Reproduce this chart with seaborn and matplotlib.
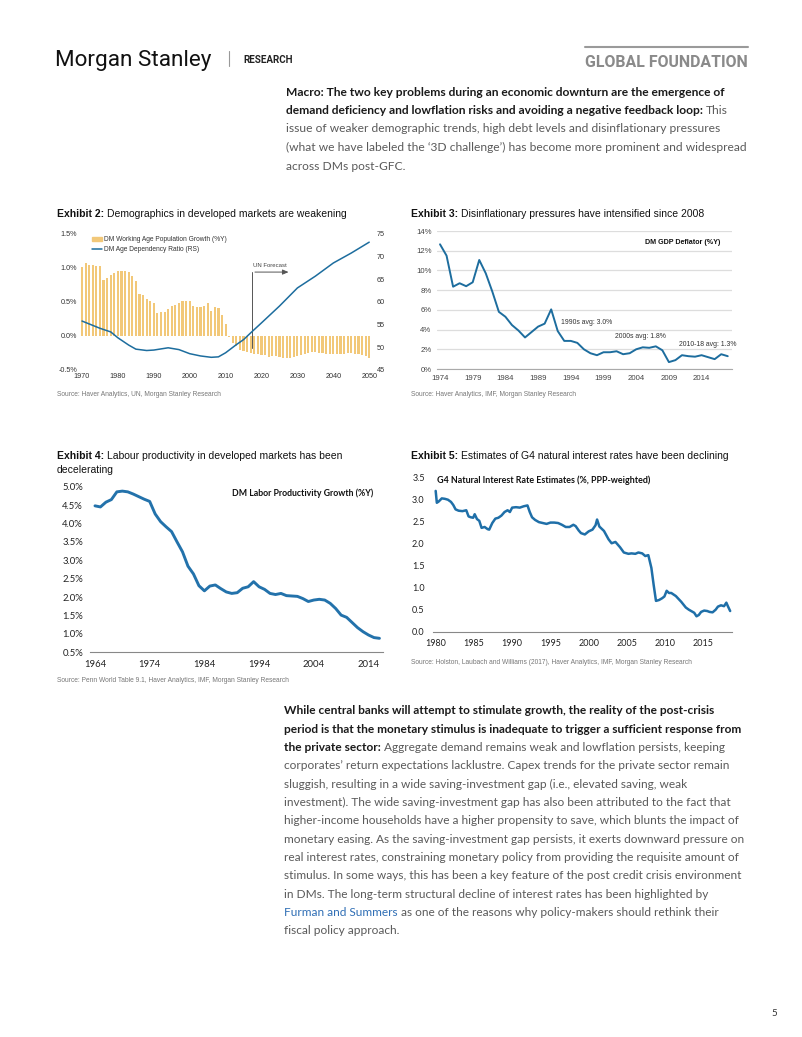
import numpy as np
import pandas as pd
import matplotlib
matplotlib.use("Agg")
import matplotlib.pyplot as plt
import seaborn as sns
from matplotlib.lines import Line2D
from matplotlib.patches import Patch
from matplotlib.ticker import FuncFormatter

# ---- Exhibit 2: demographics ----
ex2_years = list(range(1970, 2051))
ex2_wap_growth = [1.02, 1.07, 1.05, 1.04, 1.03, 1.03, 0.82, 0.86, 0.90, 0.93,
                  0.95, 0.96, 0.96, 0.94, 0.88, 0.81, 0.62, 0.60, 0.55, 0.51,
                  0.48, 0.34, 0.35, 0.36, 0.39, 0.44, 0.46, 0.49, 0.51, 0.52,
                  0.51, 0.44, 0.42, 0.42, 0.44, 0.48, 0.37, 0.43, 0.41, 0.31,
                  0.17, -0.01, -0.11, -0.15, -0.20, -0.22, -0.24, -0.25, -0.27, -0.27,
                  -0.28, -0.28, -0.31, -0.30, -0.29, -0.31, -0.32, -0.33, -0.32, -0.31,
                  -0.30, -0.28, -0.27, -0.25, -0.24, -0.24, -0.25, -0.25, -0.26, -0.26,
                  -0.27, -0.26, -0.26, -0.26, -0.25, -0.25, -0.26, -0.27, -0.28, -0.29,
                  -0.33]
ex2_dep_years = [1970, 1975, 1978, 1980, 1983, 1985, 1988, 1990, 1994, 1997, 2000, 2003,
                 2006, 2008, 2010, 2013, 2015, 2017, 2020, 2025, 2030, 2035, 2040, 2045, 2050]
ex2_dep_ratio = [55.8, 54.2, 53.4, 52.1, 50.5, 49.6, 49.3, 49.4, 49.9, 49.5, 48.6, 48.1,
                 47.8, 47.9, 48.8, 50.6, 51.7, 53.2, 55.4, 59.1, 63.1, 65.7, 68.6, 70.8, 73.2]

# ---- Exhibit 3: GDP deflator ----
ex3_years = list(range(1974, 2019))
ex3_deflator = [12.65, 11.5, 8.35, 8.7, 8.4, 8.8, 11.06, 9.7, 7.85, 5.8,
                5.3, 4.46, 3.9, 3.2, 3.75, 4.3, 4.6, 6.05, 3.85, 2.85,
                2.85, 2.65, 2.0, 1.6, 1.4, 1.7, 1.7, 1.8, 1.5, 1.6,
                2.0, 2.2, 2.15, 2.3, 1.9, 0.7, 0.9, 1.4, 1.3, 1.25,
                1.4, 1.2, 1.0, 1.5, 1.3]

# ---- Exhibit 4: labour productivity ----
ex4_years = list(range(1964, 2017))
ex4_productivity = [4.48, 4.45, 4.58, 4.65, 4.86, 4.88, 4.86, 4.80, 4.73, 4.66,
                    4.60, 4.26, 4.05, 3.91, 3.78, 3.50, 3.23, 2.84, 2.63, 2.31,
                    2.17, 2.30, 2.33, 2.23, 2.14, 2.10, 2.12, 2.24, 2.28, 2.42,
                    2.28, 2.21, 2.10, 2.07, 2.10, 2.04, 2.03, 2.02, 1.96, 1.88,
                    1.92, 1.94, 1.92, 1.83, 1.69, 1.51, 1.45, 1.31, 1.17, 1.06,
                    0.97, 0.90, 0.88]

# ---- Exhibit 5: natural rate ----
ex5_time = [1980.0, 1980.15, 1980.4, 1980.8, 1981.2, 1981.6, 1982.0, 1982.3, 1982.6, 1983.0,
            1983.5, 1984.0, 1984.3, 1984.6, 1984.9, 1985.1, 1985.4, 1985.7, 1986.0, 1986.4,
            1986.8, 1987.0, 1987.4, 1987.8, 1988.2, 1988.6, 1989.0, 1989.4, 1989.7, 1990.0,
            1990.5, 1991.0, 1991.5, 1992.0, 1992.3, 1992.6, 1993.0, 1993.5, 1994.0, 1994.5,
            1995.0, 1995.5, 1996.0, 1996.5, 1997.0, 1997.5, 1998.0, 1998.3, 1998.7, 1999.0,
            1999.5, 2000.0, 2000.5, 2000.9, 2001.1, 2001.4, 2002.0, 2002.6, 2003.0, 2003.5,
            2004.1, 2004.6, 2005.2, 2005.6, 2006.1, 2006.5, 2007.0, 2007.4, 2007.8, 2008.2,
            2008.5, 2008.8, 2009.2, 2009.6, 2009.9, 2010.2, 2010.5, 2010.8, 2011.4, 2012.1,
            2012.7, 2013.1, 2013.4, 2013.8, 2014.1, 2014.4, 2014.7, 2015.1, 2015.5, 2015.8,
            2016.2, 2016.6, 2016.9, 2017.3, 2017.7, 2018.0, 2018.2, 2018.5]
ex5_rate = [3.20, 2.93, 2.96, 3.03, 3.02, 3.00, 2.95, 2.88, 2.78, 2.75,
            2.74, 2.76, 2.62, 2.60, 2.59, 2.67, 2.56, 2.52, 2.36, 2.38,
            2.33, 2.32, 2.47, 2.57, 2.59, 2.64, 2.72, 2.76, 2.72, 2.82,
            2.83, 2.82, 2.85, 2.87, 2.72, 2.60, 2.54, 2.49, 2.47, 2.45,
            2.48, 2.48, 2.47, 2.43, 2.38, 2.38, 2.43, 2.40, 2.30, 2.24,
            2.21, 2.28, 2.32, 2.42, 2.55, 2.39, 2.29, 2.10, 2.01, 2.04,
            1.92, 1.80, 1.77, 1.78, 1.77, 1.80, 1.78, 1.72, 1.74, 1.45,
            1.06, 0.70, 0.72, 0.76, 0.80, 0.93, 0.88, 0.88, 0.81, 0.68,
            0.55, 0.50, 0.47, 0.43, 0.35, 0.38, 0.45, 0.48, 0.47, 0.45,
            0.44, 0.50, 0.57, 0.60, 0.58, 0.66, 0.58, 0.47]

sns.set_style("white")
plt.rcParams['font.family'] = ['Liberation Sans', 'DejaVu Sans']

W, H = 802, 1037
fig = plt.figure(figsize=(W / 100, H / 100), dpi=100)
R = fig.canvas.get_renderer()

BLUE = "#1d6d9e"
BAR = "#F2C879"


def box(l, t, w, h):
    return fig.add_axes([l / W, 1 - (t + h) / H, w / W, h / H])


def put(x, y, parts, size, family):
    # parts: (text, weight, colour); texts placed one after another on a line
    cx = x
    for s, wt, c in parts:
        if s.startswith(' '):
            cx += 0.27 * size * 100 / 72
            s = s.lstrip()
        t = fig.text(cx / W, 1 - y / H, s, fontsize=size, fontweight=wt, color=c,
                     family=family, va='center_baseline', ha='left')
        cx += t.get_window_extent(R).width
    return cx - x


def fit(parts, target, family):
    n = len(fig.texts)
    w = put(0, -200, parts, 10, family)
    for t in list(fig.texts[n:]):
        t.remove()
    return 10 * target / w


# ---- header ----
s = fit([("Morgan Stanley", "normal", "k")], 156, "Roboto")
put(55, 58, [("Morgan Stanley", "normal", "#111111")], s, "Roboto")
fig.add_artist(Line2D([229 / W, 229 / W], [1 - 51 / H, 1 - 66 / H], color="#999999", lw=0.8))
s = fit([("RESEARCH", "bold", "k")], 50, "Roboto")
put(243, 59, [("RESEARCH", "bold", "#222222")], s, "Roboto")
fig.add_artist(Line2D([585 / W, 748 / W], [1 - 47 / H, 1 - 47 / H], color="#9a9a9a", lw=1.5))
s = fit([("GLOBAL FOUNDATION", "bold", "k")], 163, "Roboto")
put(585, 61, [("GLOBAL FOUNDATION", "bold", "#8a8a8a")], s, "Roboto")

# ---- paragraph 1 ----
TB, TR = "#1a1a1a", "#5a5a5a"
p1 = [
    [("Macro: The two key problems during an economic downturn are the emergence of", "bold", TB)],
    [("demand deficiency and lowflation risks and avoiding a negative feedback loop:", "bold", TB), (" This", "normal", TR)],
    [("issue of weaker demographic trends, high debt levels and disinflationary pressures", "normal", TR)],
    [("(what we have labeled the \u20183D challenge\u2019) has become more prominent and widespread", "normal", TR)],
    [("across DMs post-GFC.", "normal", TR)],
]
s1 = fit(p1[3], 459, "Lato")
for i, parts in enumerate(p1):
    put(286, 91 + 18.5 * i, parts, s1, "Lato")

# ---- exhibit titles / sources ----
SRC = "#777777"


def title(x, y, num, text, width):
    parts = [(f"Exhibit {num}:", "bold", "#111111"), ("  " + text.strip(), "normal", "#111111")]
    sz = fit(parts, width, "Liberation Sans")
    put(x, y, parts, sz, "Liberation Sans")
    return sz


tsz = title(57, 213, 2, "Demographics in developed markets are weakening", 289)
title(411, 213, 3, "Disinflationary pressures have intensified since 2008", 294)
put(57, 455, [("Exhibit 4:", "bold", "#111111"), ("  Labour productivity in developed markets has been", "normal", "#111111")], tsz, "Liberation Sans")
put(57, 469, [("decelerating", "normal", "#111111")], tsz, "Liberation Sans")
put(411, 455, [("Exhibit 5:", "bold", "#111111"), ("  Estimates of G4 natural interest rates have been declining", "normal", "#111111")], tsz, "Liberation Sans")

ssz = fit([("Source: Haver Analytics, UN, Morgan Stanley Research", "normal", SRC)], 164, "Liberation Sans")
put(57, 394, [("Source: Haver Analytics, UN, Morgan Stanley Research", "normal", SRC)], ssz, "Liberation Sans")
put(411, 394, [("Source: Haver Analytics, IMF, Morgan Stanley Research", "normal", SRC)], ssz, "Liberation Sans")
put(57, 679, [("Source: Penn World Table 9.1, Haver Analytics, IMF, Morgan Stanley Research", "normal", SRC)], ssz, "Liberation Sans")
put(411, 662, [("Source: Holston, Laubach and Williams (2017), Haver Analytics, IMF, Morgan Stanley Research", "normal", SRC)], ssz, "Liberation Sans")

# ---- Exhibit 2 chart ----
ax = box(80, 234, 291, 136)
sns.barplot(x=ex2_years, y=ex2_wap_growth, native_scale=True, color=BAR, saturation=1,
            width=0.6, ax=ax, linewidth=0)
ax.set_xlim(1969.44, 2050.5)
ax.set_ylim(-0.5, 1.5)
ax.set_yticks([-0.5, 0.0, 0.5, 1.0, 1.5])
ax.yaxis.set_major_formatter(FuncFormatter(lambda v, p: f"{v:.1f}%"))
ax.set_xticks(list(range(1970, 2051, 10)))
ax.tick_params(labelsize=5.2, length=0, pad=2, colors="#333333")
for sp in ax.spines.values():
    sp.set_visible(False)
ax2 = ax.twinx()
sns.lineplot(x=ex2_dep_years, y=ex2_dep_ratio, ax=ax2, color=BLUE, lw=1.1)
ax2.set_ylim(45, 75)
ax2.set_yticks([45, 50, 55, 60, 65, 70, 75])
ax2.tick_params(labelsize=5.2, length=0, pad=4, colors="#333333")
for sp in ax2.spines.values():
    sp.set_visible(False)
ax2.grid(False)
ax.grid(False)
handles = [Patch(color=BAR), Line2D([], [], color=BLUE, lw=1.1)]
leg = ax2.legend(handles, ["DM Working Age Population Growth (%Y)", "DM Age Dependency Ratio (RS)"],
                 loc="upper left", bbox_to_anchor=(0.04, 0.985), frameon=False, fontsize=4.8,
                 handlelength=1.6, handleheight=0.6, handletextpad=0.2, labelspacing=0.45,
                 borderaxespad=0, borderpad=0)
for t in leg.get_texts():
    t.set_color("#333333")
ax.annotate("", xy=(2028.3, 0.94), xytext=(2017.4, 0.94),
            arrowprops=dict(arrowstyle="-|>,head_length=0.35,head_width=0.15", color="#555555", lw=0.7))
ax.plot([2017.4, 2017.4], [-0.18, 0.94], color="#555555", lw=0.7)
ax.text(2017.6, 1.0, "UN Forecast", fontsize=4.3, color="#444444", va="bottom")

# ---- Exhibit 3 chart ----
ax3 = box(437, 231, 295, 138)
sns.lineplot(x=ex3_years, y=ex3_deflator, ax=ax3, color=BLUE, lw=1.4)
ax3.set_xlim(1973.54, 2018.65)
ax3.set_ylim(0, 14)
ax3.set_yticks(list(range(0, 15, 2)))
ax3.yaxis.set_major_formatter(FuncFormatter(lambda v, p: f"{v:.0f}%"))
ax3.set_xticks(list(range(1974, 2015, 5)))
ax3.grid(axis="y", color="#dddddd", lw=0.9)
ax3.grid(axis="x", visible=False)
for k in ["left", "right", "top"]:
    ax3.spines[k].set_visible(False)
ax3.spines["bottom"].set_color("#aaaaaa")
ax3.tick_params(axis="y", length=0, labelsize=5.6, pad=4, colors="#444444")
ax3.tick_params(axis="x", length=2, width=0.6, color="#aaaaaa", labelsize=5.6, pad=2, labelcolor="#444444")
ax3.set_axisbelow(True)
a3 = fit([("DM GDP Deflator (%Y)", "bold", "k")], 75, "Liberation Sans")
put(645, 242, [("DM GDP Deflator (%Y)", "bold", "#111111")], a3, "Liberation Sans")
a3n = fit([("1990s avg: 3.0%", "normal", "k")], 51, "Liberation Sans")
put(561, 322, [("1990s avg: 3.0%", "normal", "#333333")], a3n, "Liberation Sans")
put(615, 336, [("2000s avg: 1.8%", "normal", "#333333")], a3n, "Liberation Sans")
put(679, 343.5, [("2010-18 avg: 1.3%", "normal", "#333333")], a3n, "Liberation Sans")

# ---- Exhibit 4 chart ----
ax4 = box(90, 486.7, 293, 165.6)
sns.lineplot(x=ex4_years, y=ex4_productivity, ax=ax4, color="#2372ab", lw=2.1)
ax4.set_xlim(1963.09, 2016.65)
ax4.set_ylim(0.5, 5.0)
ax4.set_yticks(np.arange(0.5, 5.01, 0.5))
ax4.yaxis.set_major_formatter(FuncFormatter(lambda v, p: f"{v:.1f}%"))
ax4.set_xticks(list(range(1964, 2015, 10)))
for k in ["left", "right", "top"]:
    ax4.spines[k].set_visible(False)
ax4.spines["bottom"].set_color("#888888")
ax4.grid(False)
for lab in ax4.get_xticklabels() + ax4.get_yticklabels():
    lab.set_family("Lato")
ax4.tick_params(axis="y", length=0, labelsize=6.8, pad=5, colors="#222222")
ax4.tick_params(axis="x", length=2.5, width=0.6, color="#888888", labelsize=6.8, pad=3, labelcolor="#222222")
a4 = fit([("DM Labor Productivity Growth (%Y)", "bold", "k")], 142, "Lato")
put(232, 492, [("DM Labor Productivity Growth (%Y)", "bold", "#111111")], a4, "Lato")

# ---- Exhibit 5 chart ----
ax5 = box(433, 477.7, 298.7, 154)
sns.lineplot(x=ex5_time, y=ex5_rate, ax=ax5, color="#1f6fa8", lw=1.8)
ax5.set_xlim(1979.65, 2018.7)
ax5.set_ylim(0, 3.5)
ax5.set_yticks(np.arange(0, 3.51, 0.5))
ax5.yaxis.set_major_formatter(FuncFormatter(lambda v, p: f"{v:.1f}"))
ax5.set_xticks(list(range(1980, 2016, 5)))
for k in ["left", "right", "top"]:
    ax5.spines[k].set_visible(False)
ax5.spines["bottom"].set_color("#888888")
ax5.grid(False)
for lab in ax5.get_xticklabels() + ax5.get_yticklabels():
    lab.set_family("Lato")
ax5.tick_params(axis="y", length=0, labelsize=6.5, pad=6, colors="#222222")
ax5.tick_params(axis="x", length=2.5, width=0.6, color="#888888", labelsize=6.5, pad=3, labelcolor="#222222")
a5 = fit([("G4 Natural Interest Rate Estimates (%, PPP-weighted)", "bold", "k")], 213, "Lato")
put(437, 479, [("G4 Natural Interest Rate Estimates (%, PPP-weighted)", "bold", "#111111")], a5, "Lato")

# ---- paragraph 2 ----
LINK = "#2f6eb5"
p2 = [
    [("While central banks will attempt to stimulate growth, the reality of the post-crisis", "bold", TB)],
    [("period is that the monetary stimulus is inadequate to trigger a sufficient response from", "bold", TB)],
    [("the private sector:", "bold", TB), (" Aggregate demand remains weak and lowflation persists, keeping", "normal", TR)],
    [("corporates\u2019 return expectations lacklustre. Capex trends for the private sector remain", "normal", TR)],
    [("sluggish, resulting in a wide saving-investment gap (i.e., elevated saving, weak", "normal", TR)],
    [("investment). The wide saving-investment gap has also been attributed to the fact that", "normal", TR)],
    [("higher-income households have a higher propensity to save, which blunts the impact of", "normal", TR)],
    [("monetary easing. As the saving-investment gap persists, it exerts downward pressure on", "normal", TR)],
    [("real interest rates, constraining monetary policy from providing the requisite amount of", "normal", TR)],
    [("stimulus. In some ways, this has been a key feature of the post credit crisis environment", "normal", TR)],
    [("in DMs. The long-term structural decline of interest rates has been highlighted by", "normal", TR)],
    [("Furman and Summers", "normal", LINK), (" as one of the reasons why policy-makers should rethink their", "normal", TR)],
    [("fiscal policy approach.", "normal", TR)],
]
s2 = fit(p2[6], 453, "Lato")
for i, parts in enumerate(p2):
    put(284, 710 + 18.33 * i, parts, s2, "Lato")

fig.text(771 / W, 1 - 1013 / H, "5", fontsize=7, color="#333333", va="center_baseline", family="Lato")

fig.savefig("out.png", dpi=100)
